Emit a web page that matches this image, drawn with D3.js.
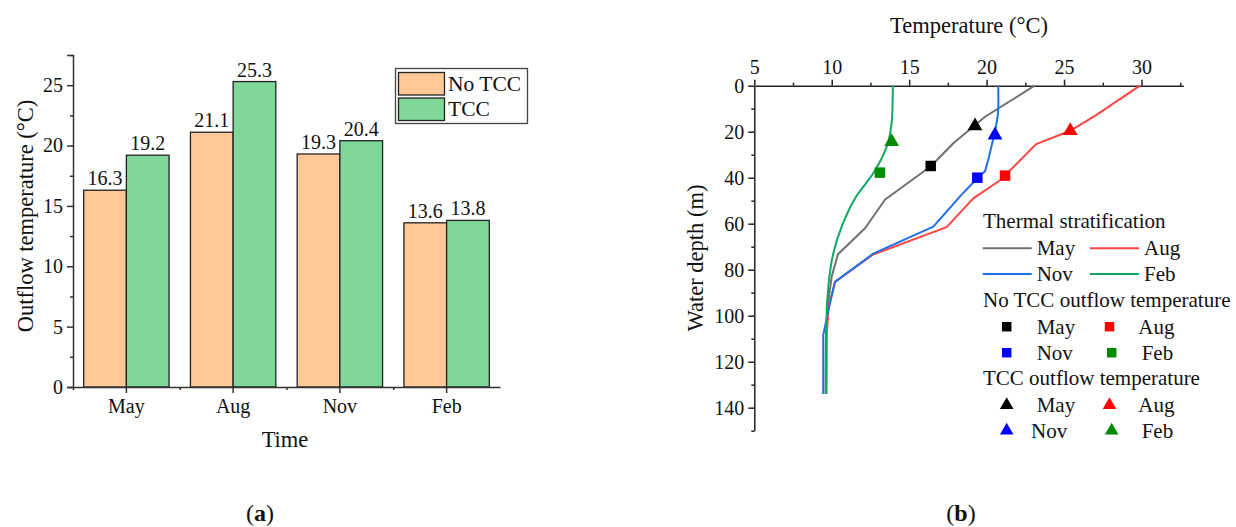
<!DOCTYPE html>
<html>
<head>
<meta charset="utf-8">
<script src="https://cdn.jsdelivr.net/npm/d3@7"></script>
<style>
  html, body { margin: 0; padding: 0; background: #fff; }
  svg { display: block; }
  svg text { font-family: "Liberation Serif", serif; }
</style>
</head>
<body>
<svg id="chart" width="1236" height="527"></svg>
<script>
// ---------- Data: panel (a) ----------
const months = ["May", "Aug", "Nov", "Feb"];
const noTCC = [16.3, 21.1, 19.3, 13.6];
const withTCC = [19.2, 25.3, 20.4, 13.8];
const barYTicks = [0, 5, 10, 15, 20, 25];

// ---------- Data: panel (b) ----------  [temperature, depth]
const profMay = [[23.1,0],[19.9,13.5],[17.85,25],[16.4,35],[13.45,49.5],[12.15,62],[10.4,73.3],[10.0,83],[9.75,95],[9.62,110],[9.6,134]];
const profAug = [[29.9,0],[27.1,12.7],[25.4,19.6],[23.2,25.4],[20.9,41],[19.14,49],[17.42,61.5],[12.68,73.4],[10.21,85.3],[9.8,96],[9.68,108],[9.66,134]];
const profNov = [[20.75,0],[20.76,8],[20.72,13],[20.6,18],[20.43,23],[20.15,31],[19.9,37.2],[19.5,39.5],[18.3,48],[16.56,61.3],[12.68,73],[10.21,85.3],[9.78,97.8],[9.45,108.5],[9.45,134]];
const profFeb = [[13.95,0],[13.93,7],[13.9,13.5],[13.55,26.5],[12.68,38.1],[11.5,49],[10.64,61.3],[10.1,72.9],[9.8,86],[9.65,104.8],[9.64,134]];
const noTCCPts = [[16.39,34.9],[21.19,39.1],[19.4,40],[13.11,37.8]];
const tccPts = [[19.25,17.5],[25.4,19.6],[20.54,21.5],[13.87,24.4]];
const tempTicks = [5, 10, 15, 20, 25, 30];
const depthTicks = [0, 20, 40, 60, 80, 100, 120, 140];

const lineColors = ["#707070", "#FF4444", "#1F6FE6", "#10A860"];
const markColors = ["#000000", "#FF0000", "#0000FF", "#008C00"];

const FONT = "Liberation Serif";
const svg = d3.select("#chart");
const axisColor = "#333";

// ================= Panel (a) =================
const xB = d3.scaleBand().domain(months).range([73, 500]).paddingInner(0.2).paddingOuter(0.1);
const yB = d3.scaleLinear().domain([0, 27.5]).range([387, 55]);
const gA = svg.append("g");

const half = xB.bandwidth() / 2;
gA.selectAll("rect.no").data(months).enter().append("rect")
  .attr("x", d => xB(d)).attr("y", (d,i) => yB(noTCC[i]))
  .attr("width", half).attr("height", (d,i) => yB(0) - yB(noTCC[i]))
  .attr("fill", "#FFC896").attr("stroke", "#222").attr("stroke-width", 1.3);
gA.selectAll("rect.tcc").data(months).enter().append("rect")
  .attr("x", d => xB(d) + half).attr("y", (d,i) => yB(withTCC[i]))
  .attr("width", half).attr("height", (d,i) => yB(0) - yB(withTCC[i]))
  .attr("fill", "#7FD89A").attr("stroke", "#222").attr("stroke-width", 1.3);

gA.selectAll("text.vno").data(months).enter().append("text")
  .attr("x", d => xB(d) + half/2).attr("y", (d,i) => yB(noTCC[i]) - 5)
  .attr("text-anchor", "middle").attr("font-size", 20).text((d,i) => noTCC[i].toFixed(1));
gA.selectAll("text.vtcc").data(months).enter().append("text")
  .attr("x", d => xB(d) + half*1.5).attr("y", (d,i) => yB(withTCC[i]) - 5)
  .attr("text-anchor", "middle").attr("font-size", 20).text((d,i) => withTCC[i].toFixed(1));

gA.append("g").attr("transform", "translate(73,0)")
  .call(d3.axisLeft(yB).tickValues(barYTicks).tickSize(6).tickPadding(4).tickFormat(d3.format("d")));
gA.append("g").attr("transform", "translate(73,0)")
  .call(d3.axisLeft(yB).tickValues(barYTicks.map(v => v + 2.5)).tickSize(3).tickFormat(""))
  .call(g => g.select(".domain").remove());
gA.append("g").attr("transform", "translate(0,387)")
  .call(d3.axisBottom(xB).tickSize(6).tickPadding(6).tickSizeOuter(0));
const xMinor = d3.scaleLinear().domain([0, 4]).range([73, 500]);
gA.append("g").attr("transform", "translate(0,387)")
  .call(d3.axisBottom(xMinor).tickValues([0,1,2,3]).tickSize(3).tickFormat(""))
  .call(g => g.select(".domain").remove());
gA.selectAll(".domain, .tick line").attr("stroke", axisColor).attr("stroke-width", 1.5);

gA.append("text").attr("transform", "translate(33,216) rotate(-90)")
  .attr("text-anchor", "middle").attr("font-size", 22.5).text("Outflow temperature (°C)");
gA.append("text").attr("x", 285).attr("y", 447)
  .attr("text-anchor", "middle").attr("font-size", 22.5).text("Time");

const legA = gA.append("g");
legA.append("rect").attr("x", 395.5).attr("y", 68.5).attr("width", 132).attr("height", 55)
  .attr("fill", "#fff").attr("stroke", "#444").attr("stroke-width", 1.3);
const legItems = [["No TCC", "#FFC896"], ["TCC", "#7FD89A"]];
legItems.forEach((it, i) => {
  legA.append("rect").attr("x", 398.5).attr("y", 72.5 + i*25.5).attr("width", 46).attr("height", 22.5)
    .attr("fill", it[1]).attr("stroke", "#222").attr("stroke-width", 1.3);
  legA.append("text").attr("x", 448).attr("y", 90.5 + i*25.5).attr("font-size", 21.5).text(it[0]);
});

// ================= Panel (b) =================
const xT = d3.scaleLinear().domain([5, 32.7]).range([754.3, 1183.3]);
const yD = d3.scaleLinear().domain([0, 150]).range([85.7, 430.7]);
const gB = svg.append("g");

gB.append("g").attr("transform", "translate(0,85.7)")
  .call(d3.axisTop(xT).tickValues(tempTicks).tickSize(6).tickPadding(6).tickSizeOuter(0).tickFormat(d3.format("d")));
gB.append("g").attr("transform", "translate(0,85.7)")
  .call(d3.axisTop(xT).tickValues([7.5,12.5,17.5,22.5,27.5,32.5]).tickSize(3).tickFormat(""))
  .call(g => g.select(".domain").remove());
gB.append("g").attr("transform", "translate(754.3,0)")
  .call(d3.axisLeft(yD).tickValues(depthTicks).tickSize(6).tickPadding(4).tickSizeOuter(0).tickFormat(d3.format("d")));
gB.append("g").attr("transform", "translate(754.3,0)")
  .call(d3.axisLeft(yD).tickValues([10,30,50,70,90,110,130,150]).tickSize(3).tickFormat(""))
  .call(g => g.select(".domain").remove());
gB.selectAll(".domain, .tick line").attr("stroke", "#222").attr("stroke-width", 1.5);

gB.append("text").attr("x", 969).attr("y", 33).attr("text-anchor", "middle")
  .attr("font-size", 22.5).text("Temperature (°C)");
gB.append("text").attr("transform", "translate(703,258) rotate(-90)")
  .attr("text-anchor", "middle").attr("font-size", 22.5).text("Water depth (m)");

const lineGen = d3.line().x(d => xT(d[0])).y(d => yD(d[1]));
const smoothGen = d3.line().x(d => xT(d[0])).y(d => yD(d[1])).curve(d3.curveMonotoneY);
const profiles = [profMay, profAug, profNov, profFeb];
profiles.forEach((p, i) => {
  gB.append("path").datum(p)
    .attr("d", i === 3 ? smoothGen : lineGen)
    .attr("fill", "none").attr("stroke", lineColors[i]).attr("stroke-width", 2)
    .attr("stroke-linejoin", "round");
});

const sqSym = d3.symbol().type(d3.symbolSquare).size(110);
const triSym = d3.symbol().type(d3.symbolTriangle).size(95);
noTCCPts.forEach((p, i) => {
  gB.append("path").attr("d", sqSym).attr("transform", `translate(${xT(p[0])},${yD(p[1])})`)
    .attr("fill", markColors[i]);
});
tccPts.forEach((p, i) => {
  gB.append("path").attr("d", triSym).attr("transform", `translate(${xT(p[0])},${yD(p[1])})`)
    .attr("fill", markColors[i]);
});

const legB = gB.append("g");
legB.append("text").attr("x", 983).attr("y", 228).text("Thermal stratification");
const lineLeg = [[982.7, 248.3, "May"], [1090, 248.3, "Aug"], [982.7, 274, "Nov"], [1090, 274, "Feb"]];
lineLeg.forEach((l, i) => {
  legB.append("line").attr("x1", l[0]).attr("x2", l[0] + 49).attr("y1", l[1]).attr("y2", l[1])
    .attr("stroke", lineColors[i]).attr("stroke-width", 2);
  legB.append("text").attr("x", l[0] + 54).attr("y", l[1] + 7).text(l[2]);
});
legB.append("text").attr("x", 983).attr("y", 307).text("No TCC outflow temperature");
const mkPos = [[1006.7, 0], [1109.5, 0], [1006.7, 1], [1111.7, 1]];
const mkText = [1036.7, 1138.3, 1036.7, 1141.7];
months.forEach((m, i) => {
  const y = 326.7 + mkPos[i][1] * 26;
  legB.append("path").attr("d", d3.symbol().type(d3.symbolSquare).size(90))
    .attr("transform", `translate(${mkPos[i][0]},${y})`).attr("fill", markColors[i]);
  legB.append("text").attr("x", mkText[i]).attr("y", y + 7.3).text(m);
});
legB.append("text").attr("x", 983).attr("y", 385).text("TCC outflow temperature");
const mkText2 = [1036.7, 1138.3, 1031, 1141.7];
months.forEach((m, i) => {
  const y = 405 + mkPos[i][1] * 25.5;
  legB.append("path").attr("d", d3.symbol().type(d3.symbolTriangle).size(80))
    .attr("transform", `translate(${mkPos[i][0]},${y})`).attr("fill", markColors[i]);
  legB.append("text").attr("x", mkText2[i]).attr("y", y + 7.3).text(m);
});
legB.selectAll("text").attr("font-size", 21);

// axis tick labels
svg.selectAll(".tick text").attr("font-size", 20);

// panel labels
[["a", 260], ["b", 961]].forEach(([s, x]) => {
  const t = svg.append("text").attr("x", x).attr("y", 521).attr("text-anchor", "middle")
    .attr("font-size", 24);
  t.append("tspan").text("(");
  t.append("tspan").attr("font-weight", "bold").text(s);
  t.append("tspan").text(")");
});

// every text in the serif face, dark fill
svg.selectAll("text").attr("font-family", FONT).attr("fill", "#111");
</script>
</body>
</html>
